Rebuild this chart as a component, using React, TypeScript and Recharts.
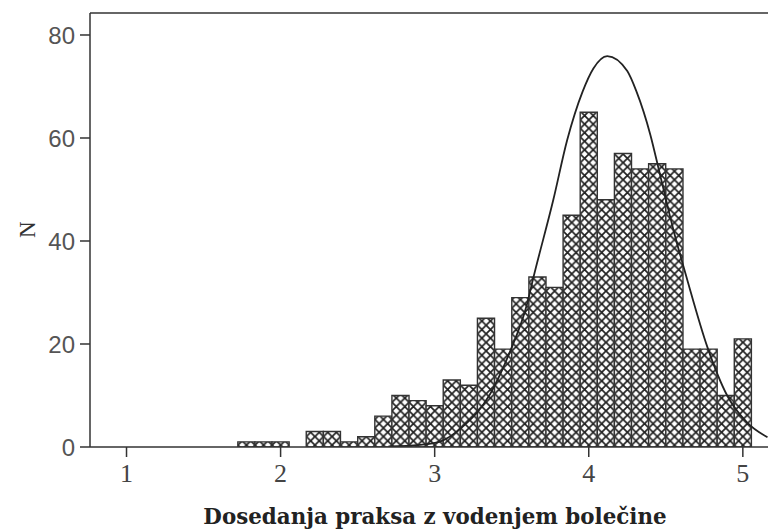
import { Bar, ComposedChart, Line, XAxis, YAxis, ReferenceLine } from "recharts";

// histogram bins (bin centres, width 1/9) and counts
const binMid = [
  1.778, 1.889, 2.0, 2.111, 2.222, 2.333, 2.444, 2.556, 2.667, 2.778,
  2.889, 3.0, 3.111, 3.222, 3.333, 3.444, 3.556, 3.667, 3.778, 3.889,
  4.0, 4.111, 4.222, 4.333, 4.444, 4.556, 4.667, 4.778, 4.889, 5.0,
];
const binCount = [
  1, 1, 1, 0, 3, 3, 1, 2, 6, 10,
  9, 8, 13, 12, 25, 19, 29, 33, 31, 45,
  65, 48, 57, 54, 55, 54, 19, 19, 10, 21,
];

// fitted normal curve
const curveX = [
  2.7, 2.9, 3.03, 3.18, 3.36, 3.49, 3.6, 3.64, 3.77, 3.86, 3.96, 4.03,
  4.12, 4.25, 4.31, 4.4, 4.46, 4.55, 4.64, 4.77, 4.9, 5.03, 5.16,
];
const curveN = [
  0.1, 0.4, 1.0, 3.9, 10.3, 18.6, 27.8, 32.8, 48.0, 59.6, 69.0, 73.5,
  75.9, 73.0, 69.0, 60.6, 53.2, 42.1, 32.4, 19.4, 9.9, 4.7, 1.9,
];

const xTicks = [1, 2, 3, 4, 5];
const yTicks = [0, 20, 40, 60, 80];

const bins = binMid.map((x, i) => ({ x, n: binCount[i] }));
const curve = curveX.map((x, i) => ({ cx: x, fit: curveN[i] }));

const X_DOMAIN = [0.763, 5.371];
const INK = "#333";

export default function App() {
  return (
    <div
      style={{
        position: "absolute",
        left: 0,
        top: 0,
        width: 768,
        height: 530,
        overflow: "hidden",
        background: "#fff",
      }}
    >
      <ComposedChart
        width={800}
        height={530}
        data={bins}
        margin={{ top: 13, right: 0, left: 0, bottom: 0 }}
        barGap={0}
      >
        <defs>
          <pattern
            id="xhatch"
            patternUnits="userSpaceOnUse"
            x={237.9}
            y={0}
            width={8.56}
            height={8.56}
          >
            <rect width={8.56} height={8.56} fill="#fff" />
            <path
              d="M0,0 L8.56,8.56 M8.56,0 L0,8.56"
              stroke="#222"
              strokeWidth={1.7}
            />
          </pattern>
        </defs>
        <XAxis
          dataKey="x"
          type="number"
          domain={X_DOMAIN}
          allowDataOverflow
          ticks={xTicks}
          height={83}
          tickSize={10}
          tickMargin={7}
          stroke={INK}
          strokeWidth={1.5}
          tick={{ fill: "#444", fontSize: 26, fontFamily: "Liberation Serif" }}
          label={{
            value: "Dosedanja praksa z vodenjem bolečine",
            position: "insideBottom",
            offset: 6,
            fill: "#222",
            fontSize: 21.4,
            fontWeight: "bold",
            fontFamily: "DejaVu Serif",
            dx: -10,
          }}
        />
        <XAxis
          xAxisId="curve"
          dataKey="cx"
          type="number"
          domain={X_DOMAIN}
          allowDataOverflow
          hide
        />
        <YAxis
          type="number"
          domain={[0, 84.27]}
          allowDataOverflow
          ticks={yTicks}
          width={90}
          tickSize={10}
          tickMargin={5}
          stroke={INK}
          strokeWidth={1.5}
          tick={{ fill: "#555", fontSize: 24, fontFamily: "Liberation Sans" }}
          label={{
            value: "N",
            angle: -90,
            position: "insideLeft",
            offset: 0,
            fill: "#333",
            fontSize: 23,
            fontFamily: "Liberation Serif",
            dx: 27,
            dy: 8,
          }}
        />
        <ReferenceLine y={84.27} stroke={INK} strokeWidth={1.5} ifOverflow="visible" />
        <Bar
          dataKey="n"
          barSize={17.1}
          fill="url(#xhatch)"
          stroke={INK}
          strokeWidth={1.4}
          isAnimationActive={false}
        />
        <Line
          xAxisId="curve"
          data={curve}
          dataKey="fit"
          type="monotone"
          stroke="#222"
          strokeWidth={1.8}
          dot={false}
          activeDot={false}
          isAnimationActive={false}
        />
      </ComposedChart>
    </div>
  );
}
